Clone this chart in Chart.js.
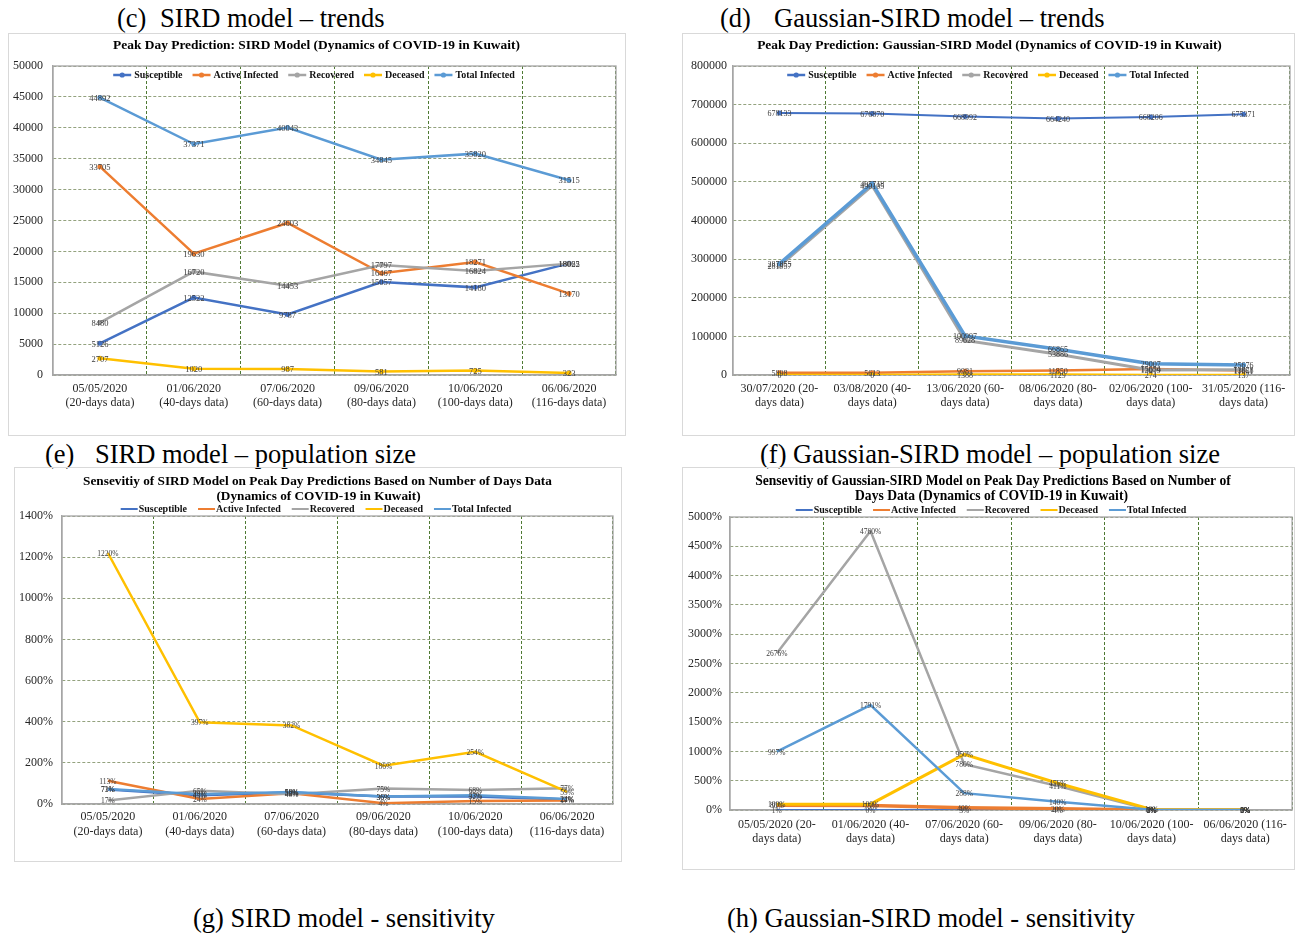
<!DOCTYPE html>
<html><head><meta charset="utf-8">
<script src="https://cdn.jsdelivr.net/npm/chart.js@4.4.0/dist/chart.umd.min.js"></script>
<style>
html,body{margin:0;padding:0;background:#fff;}
body{width:1295px;height:936px;position:relative;overflow:hidden;font-family:"Liberation Serif","Times New Roman",serif;}
.cap{position:absolute;font-size:26.5px;line-height:26px;height:26px;color:#000;white-space:pre;}
canvas{position:absolute;}
</style></head><body>
<div class="cap" style="left:117px;top:5px">(c)</div><div class="cap" style="left:160px;top:5px">SIRD model – trends</div>
<div class="cap" style="left:720px;top:5px">(d)</div><div class="cap" style="left:774px;top:5px">Gaussian-SIRD model – trends</div>
<div class="cap" style="left:45px;top:441px">(e)</div><div class="cap" style="left:95px;top:441px">SIRD model – population size</div>
<div class="cap" style="left:760px;top:441px">(f) Gaussian-SIRD model – population size</div>
<div class="cap" style="left:193px;top:905px">(g) SIRD model - sensitivity</div>
<div class="cap" style="left:727px;top:905px">(h) Gaussian-SIRD model - sensitivity</div>
<canvas id="cC"></canvas><canvas id="cD"></canvas><canvas id="cG"></canvas><canvas id="cH"></canvas>
<script>
// ---------- data ----------
const seriesNames = ['Susceptible','Active Infected','Recovered','Deceased','Total Infected'];

const sirdDates = [["05/05/2020","(20-days data)"],["01/06/2020","(40-days data)"],["07/06/2020","(60-days data)"],["09/06/2020","(80-days data)"],["10/06/2020","(100-days data)"],["06/06/2020","(116-days data)"]];
const gaussTrendDates = [["30/07/2020 (20-","days data)"],["03/08/2020 (40-","days data)"],["13/06/2020 (60-","days data)"],["08/06/2020 (80-","days data)"],["02/06/2020 (100-","days data)"],["31/05/2020 (116-","days data)"]];
const gaussSensDates = [["05/05/2020 (20-","days data)"],["01/06/2020 (40-","days data)"],["07/06/2020 (60-","days data)"],["09/06/2020 (80-","days data)"],["10/06/2020 (100-","days data)"],["06/06/2020 (116-","days data)"]];

// (c) SIRD trends
const sirdSusceptible = [5126, 12522, 9787, 15057, 14180, 18065];
const sirdActive      = [33705, 19630, 24603, 16467, 18271, 13170];
const sirdRecovered   = [8480, 16720, 14453, 17797, 16824, 18022];
const sirdDeceased    = [2707, 1020, 987, 581, 725, 323];
const sirdTotal       = [44892, 37371, 40043, 34845, 35820, 31515];

// (d) Gaussian-SIRD trends
const gaussSusceptible = [678133, 676870, 668992, 664240, 668206, 675371];
const gaussActive      = [5898, 5613, 9981, 11850, 15654, 11661];
const gaussRecovered   = [281957, 490105, 89628, 53886, 13079, 13878];
const gaussDeceased    = [0, 0, 1388, 1129, 274, 137];
const gaussTotal       = [287855, 495718, 100997, 66865, 29007, 25676];

// (g) SIRD sensitivity (%)
const sensSusceptible = [71, 43, 56, 36, 37, 22];
const sensActive      = [113, 24, 52, 4, 15, 17];
const sensRecovered   = [17, 65, 48, 75, 68, 77];
const sensDeceased    = [1220, 397, 382, 186, 254, 59];
const sensTotal       = [73, 48, 58, 36, 43, 24];

// (h) Gaussian-SIRD sensitivity (%)
const gsensSusceptible = [1, 0, 3, 4, 1, 0];
const gsensActive      = [80, 75, 40, 20, 2, 1];
const gsensRecovered   = [2676, 4760, 780, 411, 0, 0];
const gsensDeceased    = [100, 100, 950, 456, 10, 5];
const gsensTotal       = [997, 1791, 288, 140, 5, 2];

// ---------- rendering ----------
const FONT = '"Liberation Serif", "Times New Roman", serif';
const seriesColors = ['#4472C4','#ED7D31','#A5A5A5','#FFC000','#5B9BD5'];
Chart.defaults.font.family = FONT;

function build(id, p) {
  const cv = document.getElementById(id);
  cv.width = p.W; cv.height = p.H;
  Object.assign(cv.style, {left: p.L + 'px', top: p.T + 'px', width: p.W + 'px', height: p.H + 'px'});
  const fmt = v => p.pct ? (v + '%') : String(v);
  const datasets = p.series.map((d, i) => ({
    label: seriesNames[i], data: d, borderColor: seriesColors[i], backgroundColor: seriesColors[i],
    borderWidth: p.lw[i], pointRadius: p.marker ? 2.5 : 0, pointBorderWidth: 0, pointHoverRadius: 0,
    tension: 0, fill: false, order: 4 - i
  }));
  const decor = {
    id: 'decor' + id,
    beforeDraw(chart) {
      const c = chart.ctx; c.save();
      c.strokeStyle = '#d9d9d9'; c.lineWidth = 1; c.strokeRect(0.5, 0.5, p.W - 1, p.H - 1);
      c.restore();
    },
    beforeDatasetsDraw(chart) {
      const a = chart.chartArea, c = chart.ctx; c.save();
      c.strokeStyle = '#a6a6a6'; c.lineWidth = 1.3;
      c.strokeRect(a.left, a.top, a.right - a.left, a.bottom - a.top);
      c.restore();
    },
    afterDatasetsDraw(chart) {
      const c = chart.ctx; c.save();
      c.font = p.lblSize + 'px ' + FONT; c.fillStyle = '#3b3b3b';
      c.textAlign = 'center'; c.textBaseline = 'middle';
      chart.data.datasets.forEach((ds, i) => {
        chart.getDatasetMeta(i).data.forEach((pt, j) => c.fillText(fmt(ds.data[j]), pt.x, pt.y + 1));
      });
      c.restore();
    },
    afterDraw(chart) {
      const c = chart.ctx; c.save();
      c.fillStyle = '#000'; c.textBaseline = 'middle'; c.textAlign = 'center';
      c.font = 'bold 12px ' + FONT;
      const ts = 12 * p.titleW / c.measureText(p.title[0]).width;
      c.font = 'bold ' + ts.toFixed(2) + 'px ' + FONT;
      p.title.forEach((t, i) => c.fillText(t, p.titleCx[i], p.titleY[i]));
      // legend
      c.font = 'bold ' + p.legSize + 'px ' + FONT;
      const ds = chart.data.datasets;
      const widths = ds.map(d => p.iconW + p.iconGap + c.measureText(d.label).width);
      const total = widths.reduce((a, b) => a + b, 0) + p.legSep * (ds.length - 1);
      let x = p.legCx - total / 2;
      const y = p.legY;
      c.textAlign = 'left';
      ds.forEach((d, i) => {
        c.strokeStyle = d.borderColor; c.lineWidth = p.legLw;
        c.beginPath(); c.moveTo(x, y); c.lineTo(x + p.iconW, y); c.stroke();
        if (p.marker) { c.fillStyle = d.borderColor; c.beginPath(); c.arc(x + p.iconW / 2, y, 2.6, 0, Math.PI * 2); c.fill(); }
        c.fillStyle = '#111';
        c.fillText(d.label, x + p.iconW + p.iconGap, y + 0.5);
        x += widths[i] + p.legSep;
      });
      c.restore();
    }
  };
  return new Chart(cv, {
    type: 'line',
    data: {labels: p.labels, datasets},
    options: {
      responsive: false, animation: false, devicePixelRatio: 1,
      layout: {padding: {left: 0, top: p.plot.t, right: p.W - p.plot.r, bottom: 0}},
      plugins: {legend: {display: false}, title: {display: false}, tooltip: {enabled: false}},
      scales: {
        x: {
          offset: true,
          grid: {offset: true, color: '#4f7a33', lineWidth: 1, drawTicks: false},
          border: {display: true, color: '#a6a6a6', width: 1.3, dash: [3, 2]},
          ticks: {font: {family: FONT, size: 12, lineHeight: p.xlh}, color: '#262626', padding: p.xpad, maxRotation: 0, autoSkip: false},
          afterFit: s => { s.height = p.H - p.plot.b; }
        },
        y: {
          min: 0, max: p.ymax,
          grid: {color: '#93a27e', lineWidth: 1, drawTicks: false},
          border: {display: true, color: '#a6a6a6', width: 1.3, dash: [3, 2]},
          ticks: {stepSize: p.step, callback: v => fmt(v), font: {family: FONT, size: 12}, color: '#262626', padding: p.ypad},
          afterFit: s => { s.width = p.plot.l; }
        }
      }
    },
    plugins: [decor]
  });
}

build('cC', {
  L: 8, T: 33, W: 618, H: 403, plot: {l: 45, r: 608, t: 33, b: 342},
  labels: sirdDates, series: [sirdSusceptible, sirdActive, sirdRecovered, sirdDeceased, sirdTotal],
  lw: [2.5, 2.5, 2.5, 2.5, 2.5], marker: true, pct: false, ymax: 50000, step: 5000,
  xpad: 7, xlh: 14 / 12, ypad: 10, lblSize: 8.5,
  title: ['Peak Day Prediction: SIRD Model (Dynamics of COVID-19 in Kuwait)'], titleY: [13], titleCx: [308.5], titleW: 407,
  legY: 42, legCx: 306, legSize: 10, iconW: 18, iconGap: 3, legSep: 10, legLw: 2.5
});
build('cD', {
  L: 682, T: 33, W: 613, H: 403, plot: {l: 51, r: 608, t: 33, b: 342},
  labels: gaussTrendDates, series: [gaussSusceptible, gaussActive, gaussRecovered, gaussDeceased, gaussTotal],
  lw: [2, 2.5, 3, 2.5, 3.5], marker: true, pct: false, ymax: 800000, step: 100000,
  xpad: 7, xlh: 14 / 12, ypad: 6, lblSize: 8,
  title: ['Peak Day Prediction: Gaussian-SIRD Model (Dynamics of COVID-19 in Kuwait)'], titleY: [13], titleCx: [307.5], titleW: 465,
  legY: 42, legCx: 306, legSize: 10, iconW: 18, iconGap: 3, legSep: 10, legLw: 2.5
});
build('cG', {
  L: 14, T: 467, W: 608, H: 395, plot: {l: 48, r: 599, t: 49, b: 337},
  labels: sirdDates, series: [sensSusceptible, sensActive, sensRecovered, sensDeceased, sensTotal],
  lw: [2.5, 2.5, 2.5, 2.5, 2.5], marker: false, pct: true, ymax: 1400, step: 200,
  xpad: 5.5, xlh: 15 / 12, ypad: 9, lblSize: 7.5,
  title: ['Sensevitiy of SIRD Model on Peak Day Predictions Based on Number of Days Data', '(Dynamics of COVID-19 in Kuwait)'],
  titleY: [15, 30], titleCx: [303.5, 304.5], titleW: 469,
  legY: 42, legCx: 302, legSize: 10, iconW: 17, iconGap: 1, legSep: 11, legLw: 2
});
build('cH', {
  L: 682, T: 467, W: 613, H: 403, plot: {l: 48, r: 611, t: 50, b: 343},
  labels: gaussSensDates, series: [gsensSusceptible, gsensActive, gsensRecovered, gsensDeceased, gsensTotal],
  lw: [2, 3.5, 2.5, 3, 2.5], marker: false, pct: true, ymax: 5000, step: 500,
  xpad: 8, xlh: 14 / 12, ypad: 8, lblSize: 7.5,
  title: ['Sensevitiy of Gaussian-SIRD Model on Peak Day Predictions Based on Number of', 'Days Data (Dynamics of COVID-19 in Kuwait)'],
  titleY: [14.5, 29.5], titleCx: [311, 309.5], titleW: 476,
  legY: 43, legCx: 309, legSize: 10, iconW: 17, iconGap: 1, legSep: 11, legLw: 2
});
</script>
</body></html>
